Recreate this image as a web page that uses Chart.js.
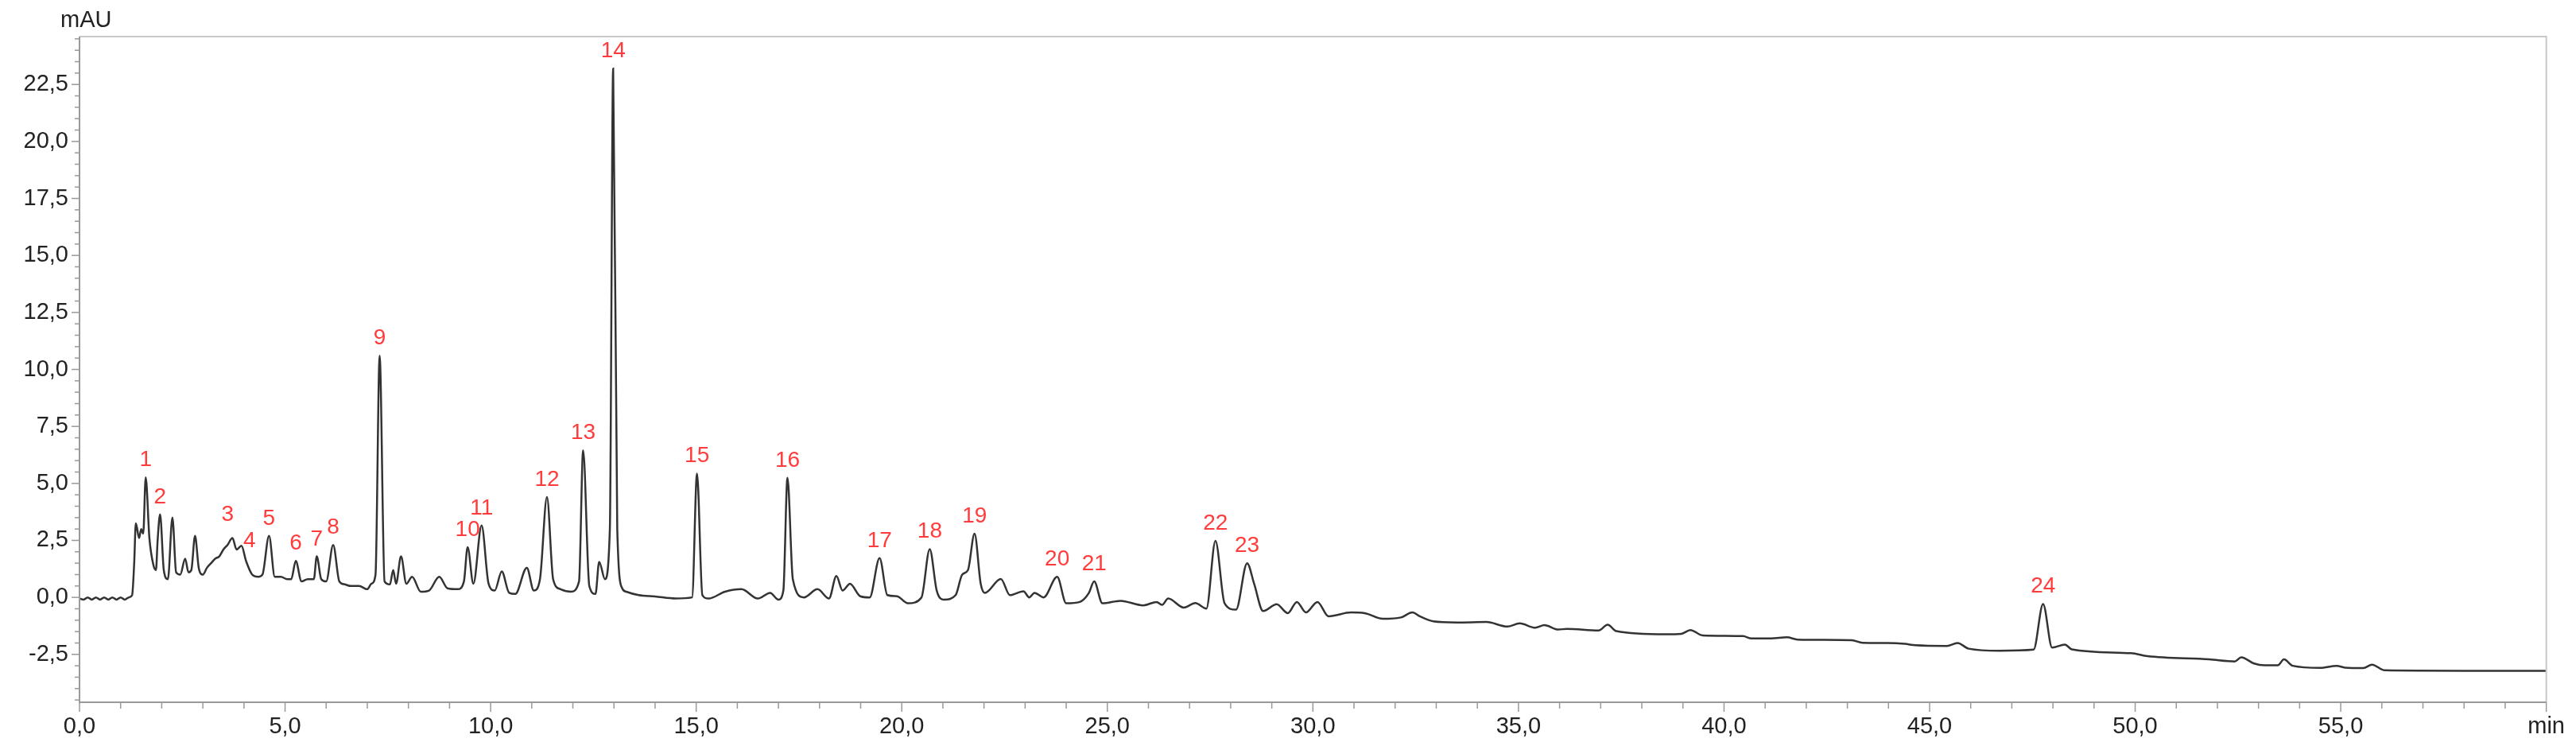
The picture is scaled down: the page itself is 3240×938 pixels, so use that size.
<!DOCTYPE html>
<html><head><meta charset="utf-8">
<script src="https://cdn.jsdelivr.net/npm/chart.js@4.4.0/dist/chart.umd.min.js"></script>
<style>html,body{margin:0;padding:0;background:#fff}</style>
</head><body><canvas id="c" width="3240" height="938"></canvas>
<script>
const times = [0,0.1,0.2,0.3,0.4,0.5,0.6,0.7,0.8,0.9,1.0,1.1,1.2,1.28,1.33,1.37,1.45,1.5,1.55,1.61,1.7,1.8,1.86,1.9,1.96,2.05,2.15,2.26,2.35,2.45,2.57,2.65,2.72,2.81,2.9,3.0,3.1,3.2,3.3,3.4,3.5,3.6,3.72,3.82,3.94,4.05,4.2,4.35,4.45,4.61,4.75,4.9,5.05,5.15,5.26,5.4,5.55,5.7,5.77,5.88,6.0,6.17,6.32,6.45,6.6,6.8,7.0,7.1,7.2,7.3,7.42,7.55,7.63,7.7,7.82,7.95,8.09,8.3,8.5,8.75,8.95,9.2,9.35,9.44,9.58,9.78,9.95,10.1,10.27,10.45,10.6,10.88,11.05,11.2,11.37,11.52,11.7,11.95,12.15,12.25,12.4,12.55,12.64,12.78,12.9,12.98,13.08,13.2,13.3,13.6,14.0,14.5,14.9,15.02,15.15,15.3,15.7,16.1,16.5,16.8,17.0,17.12,17.22,17.35,17.62,17.95,18.23,18.41,18.56,18.74,18.99,19.22,19.46,19.65,19.88,20.15,20.48,20.68,20.85,21.03,21.31,21.47,21.61,21.77,21.92,22.02,22.41,22.63,22.96,23.1,23.23,23.45,23.78,24.0,24.33,24.55,24.68,24.88,25.32,25.87,26.2,26.33,26.48,26.86,27.14,27.41,27.63,27.85,28.13,28.4,28.57,28.79,29.12,29.39,29.61,29.83,30.11,30.38,30.93,31.26,31.7,32.14,32.42,32.6,32.93,33.5,34.22,34.73,35.03,35.41,35.63,35.97,36.18,36.95,37.17,37.38,38.58,38.96,39.18,39.48,40.46,40.67,41.14,41.53,41.79,43.11,43.37,43.97,44.4,44.65,45.42,45.68,45.95,46.7,47.53,47.76,47.98,48.29,48.46,49.9,50.3,51.8,52.42,52.58,52.89,53.15,53.47,53.62,53.83,54.5,54.9,55.1,55.55,55.76,56.07,58,60];
const signal = [-0.05,-0.1,0,-0.1,0,-0.1,0,-0.1,0,-0.1,0,-0.1,0,0.1,1.5,3.25,2.6,3.0,2.8,5.26,2.6,1.4,1.2,2.5,3.64,1.2,0.8,3.5,1.1,1.0,1.7,1.1,1.2,2.7,1.3,1.0,1.3,1.5,1.7,1.8,2.1,2.3,2.6,2.1,2.26,1.6,1.0,0.9,1.0,2.7,0.9,0.9,0.8,0.8,1.6,0.7,0.8,0.8,1.8,0.8,0.7,2.3,0.7,0.57,0.5,0.5,0.36,0.6,1.0,10.6,0.7,0.57,1.2,0.6,1.8,0.6,0.9,0.25,0.3,0.9,0.4,0.36,0.7,2.2,0.6,3.15,0.6,0.3,1.14,0.2,0.15,1.3,0.3,0.8,4.4,0.8,0.36,0.25,0.7,6.45,0.5,0.15,1.56,0.8,3.0,23.2,3.0,0.4,0.25,0.1,0.04,-0.05,0.0,5.43,0.1,-0.05,0.25,0.36,-0.05,0.2,-0.1,0.3,5.25,0.8,0.0,0.36,-0.05,0.94,0.3,0.6,0.05,0.0,1.72,0.1,0.05,-0.26,0.0,2.12,0.3,-0.1,0.1,1.0,1.2,2.8,0.6,0.2,0.81,0.1,0.27,0.0,0.2,0.0,0.9,-0.26,-0.2,0.19,0.7,-0.26,-0.15,-0.35,-0.2,-0.33,-0.05,-0.45,-0.25,-0.49,2.48,-0.25,-0.54,1.5,0.6,-0.6,-0.3,-0.69,-0.2,-0.66,-0.2,-0.83,-0.66,-0.69,-0.94,-0.88,-0.66,-0.83,-1.05,-1.1,-1.08,-1.28,-1.14,-1.33,-1.22,-1.41,-1.38,-1.45,-1.2,-1.48,-1.62,-1.6,-1.43,-1.67,-1.7,-1.8,-1.8,-1.75,-1.85,-1.88,-1.99,-2.0,-2.04,-2.1,-2.13,-2.0,-2.25,-2.34,-2.29,-0.29,-2.2,-2.07,-2.28,-2.45,-2.58,-2.72,-2.81,-2.63,-2.9,-2.98,-2.98,-2.72,-3.0,-3.09,-3.0,-3.08,-3.1,-2.95,-3.2,-3.22,-3.22];
const peakLabels = ['1','2','3','4','5','6','7','8','9','10','11','12','13','14','15','16','17','18','19','20','21','22','23','24'];
const peakTimes = [1.61,1.96,3.72,3.98,4.61,5.26,5.77,6.17,7.30,9.44,9.78,11.37,12.25,12.98,15.02,17.22,19.46,20.68,21.77,23.78,24.68,27.63,28.4,47.76];
const peakHeights = [5.26,3.64,2.6,1.85,2.7,1.6,1.8,2.3,10.6,2.2,3.15,4.4,6.45,23.2,5.43,5.25,1.72,2.12,2.8,0.9,0.7,2.48,1.5,-0.29];
const xTickLabels = {0:'0,0',5:'5,0',10:'10,0',15:'15,0',20:'20,0',25:'25,0',30:'30,0',35:'35,0',40:'40,0',45:'45,0',50:'50,0',55:'55,0',60:'min'};
const yTickValues = [-2.5,0,2.5,5,7.5,10,12.5,15,17.5,20,22.5];

const pts = times.map((t,i)=>({x:t,y:signal[i]}));
const FONT = '"Liberation Sans", Arial, sans-serif';

const deco = {
  id:'deco',
  afterDraw(ch){
    const {ctx, chartArea:a, scales:{x,y}} = ch;
    ctx.save();
    ctx.strokeStyle='#c8c8c8'; ctx.lineWidth=2;
    ctx.beginPath(); ctx.moveTo(a.left,a.top); ctx.lineTo(a.right,a.top); ctx.lineTo(a.right,a.bottom); ctx.stroke();
    ctx.strokeStyle='#999'; ctx.lineWidth=2;
    ctx.beginPath(); ctx.moveTo(a.left,a.top); ctx.lineTo(a.left,a.bottom); ctx.lineTo(a.right,a.bottom); ctx.stroke();
    ctx.lineWidth=1.5; ctx.strokeStyle='#999';
    for(let v=-4.5; v<=24.51; v+=0.5){
      const p=y.getPixelForValue(v); const major=Math.abs(v/2.5-Math.round(v/2.5))<1e-6;
      ctx.beginPath(); ctx.moveTo(a.left,p); ctx.lineTo(a.left-(major?10:6),p); ctx.stroke();
    }
    for(let v=0; v<=60; v+=1){
      const p=x.getPixelForValue(v); const major=v%5===0;
      ctx.beginPath(); ctx.moveTo(p,a.bottom); ctx.lineTo(p,a.bottom+(major?12:8)); ctx.stroke();
    }
    ctx.fillStyle='#222'; ctx.font='29px '+FONT; ctx.textAlign='left'; ctx.textBaseline='alphabetic';
    ctx.fillText('mAU', a.left-24, a.top-12);
    ctx.fillStyle='#ff3b3b'; ctx.font='28px '+FONT; ctx.textAlign='center';
    peakLabels.forEach((l,i)=>{
      let px=x.getPixelForValue(peakTimes[i]), py=y.getPixelForValue(peakHeights[i])-14;
      if(l==='3'){px-=6; py-=8;}
      if(l==='4'){px+=8; py+=4;}
      ctx.fillText(l,px,py);
    });
    ctx.restore();
  }
};

new Chart(document.getElementById('c'),{
  type:'line',
  data:{datasets:[{data:pts,borderColor:'#333',borderWidth:2.5,pointRadius:0,fill:false,cubicInterpolationMode:'monotone'}]},
  options:{
    responsive:false, animation:false, devicePixelRatio:1,
    layout:{padding:{top:46,right:4,left:0,bottom:0}},
    plugins:{legend:{display:false},tooltip:{enabled:false}},
    scales:{
      x:{type:'linear',min:0,max:60,
        grid:{display:false,drawTicks:false},border:{display:false},
        afterBuildTicks(s){s.ticks=Object.keys(xTickLabels).map(v=>({value:+v}));},
        afterFit(s){s.height=55;},
        ticks:{autoSkip:false,maxRotation:0,padding:14,color:'#222',font:{family:FONT,size:29},
          callback:(v)=>xTickLabels[v]??''}},
      y:{type:'linear',min:-4.6,max:24.6,
        grid:{display:false,drawTicks:false},border:{display:false},
        afterBuildTicks(s){s.ticks=yTickValues.map(v=>({value:v}));},
        afterFit(s){s.width=100;},
        ticks:{autoSkip:false,padding:14,color:'#222',font:{family:FONT,size:29},
          callback:(v)=>v.toFixed(1).replace('.',',')}}
    }
  },
  plugins:[deco]
});
</script>
</body></html>
